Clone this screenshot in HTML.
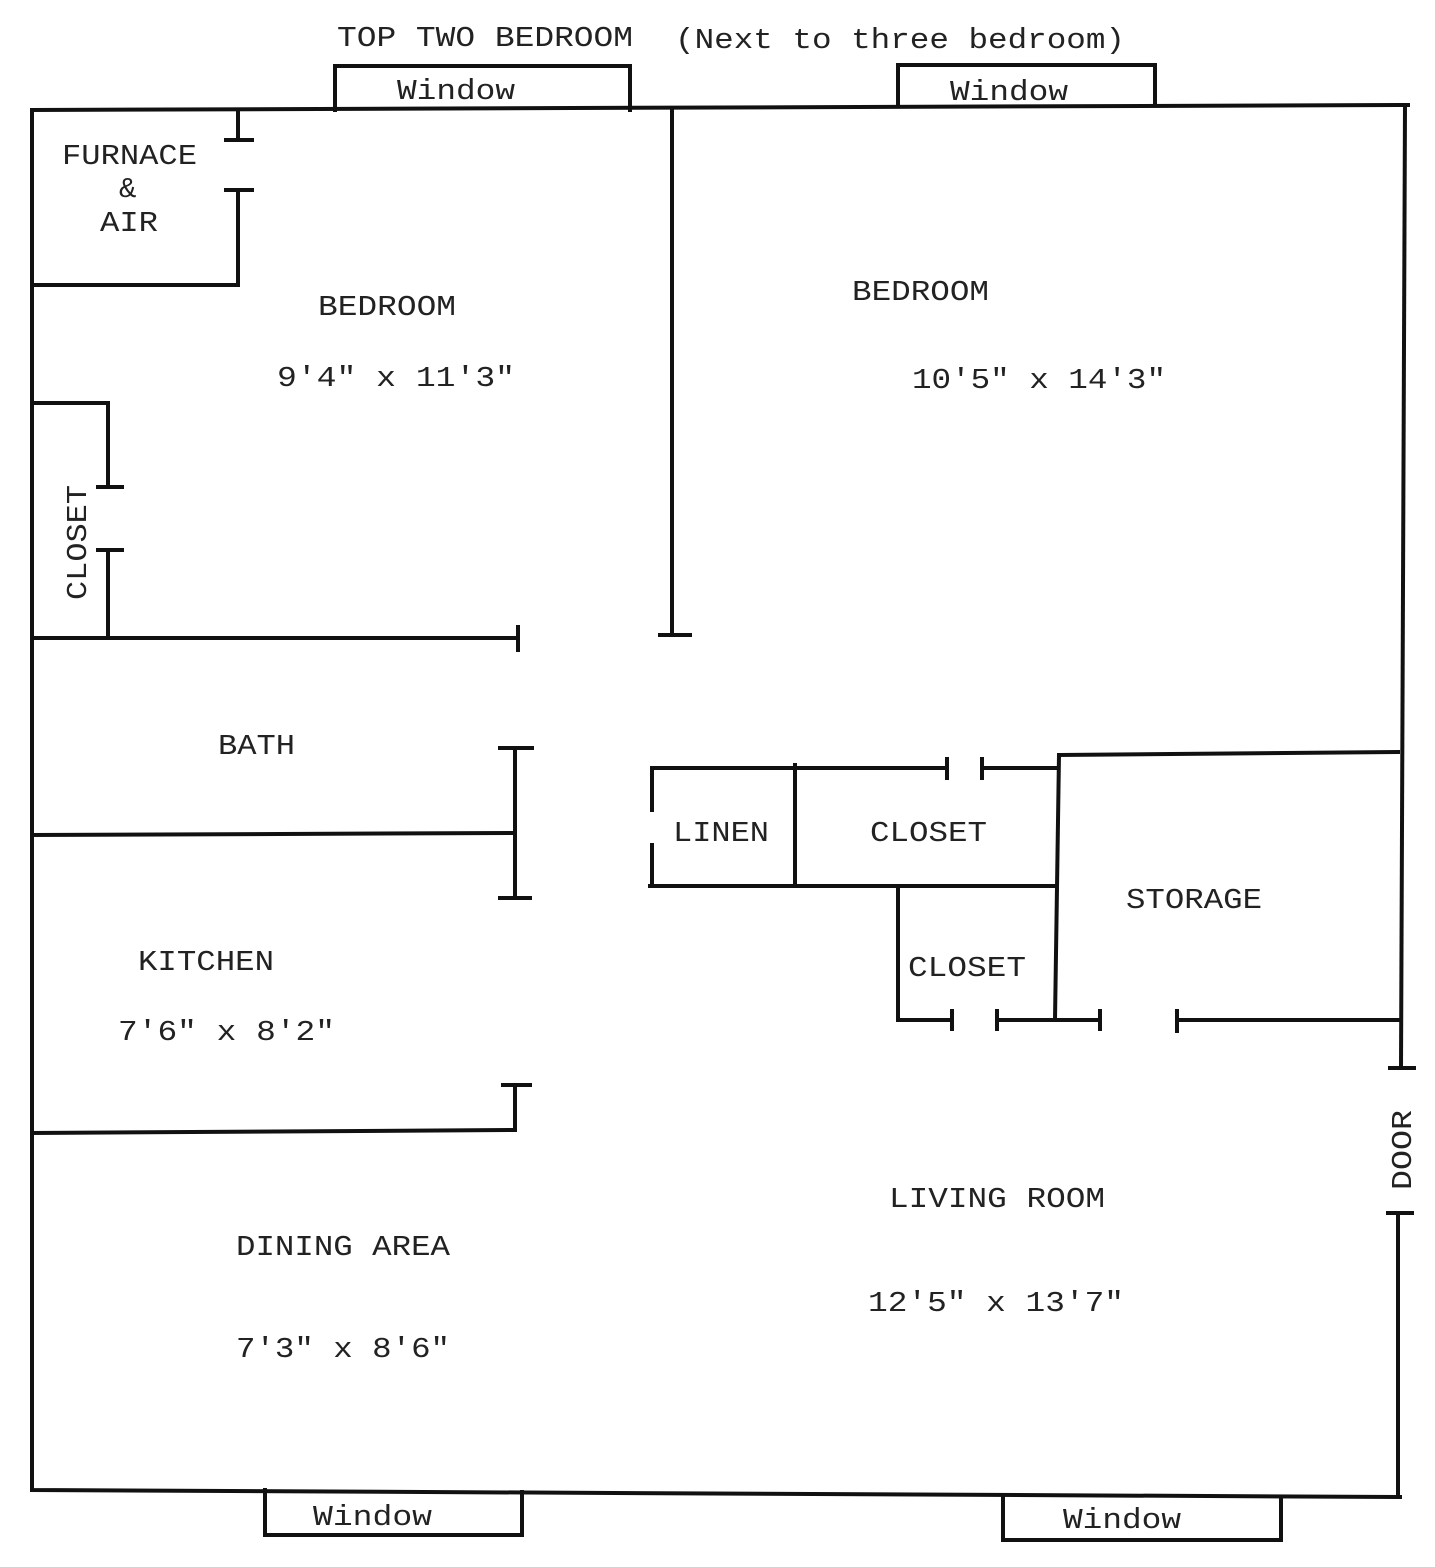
<!DOCTYPE html>
<html><head><meta charset="utf-8"><style>
html,body{margin:0;padding:0;background:#fff;}
svg{display:block;}
text{font-family:"Liberation Mono",monospace;font-size:29px;fill:#222;}
</style></head><body>
<svg width="1435" height="1567" viewBox="0 0 1435 1567" xmlns="http://www.w3.org/2000/svg">
<g stroke="#111" stroke-width="4" fill="none" stroke-linecap="square">
<!-- outer -->
<polyline points="32,110 1408,105"/>
<polyline points="32,110 32,1490 1400,1497"/>
<line x1="1405" y1="105" x2="1401" y2="1068"/>
<line x1="1390" y1="1068" x2="1414" y2="1068"/>
<line x1="1398" y1="1213" x2="1398" y2="1497"/>
<line x1="1388" y1="1213" x2="1412" y2="1213"/>
<!-- windows -->
<polyline points="335,110 335,66 630,66 630,110"/>
<polyline points="898,105 898,65 1155,65 1155,105"/>
<polyline points="265,1490 265,1535 522,1535 522,1492"/>
<polyline points="1003,1497 1003,1540 1281,1540 1281,1497"/>
<!-- furnace -->
<line x1="238" y1="110" x2="238" y2="140"/>
<line x1="226" y1="140" x2="252" y2="140"/>
<polyline points="32,285 238,285 238,190"/>
<line x1="226" y1="190" x2="252" y2="190"/>
<!-- closet left -->
<polyline points="32,403 108,403 108,487"/>
<line x1="98" y1="487" x2="122" y2="487"/>
<line x1="98" y1="550" x2="122" y2="550"/>
<line x1="108" y1="550" x2="108" y2="638"/>
<line x1="32" y1="638" x2="518" y2="638"/>
<line x1="518" y1="627" x2="518" y2="650"/>
<!-- center wall -->
<line x1="672" y1="110" x2="672" y2="635"/>
<line x1="660" y1="635" x2="690" y2="635"/>
<!-- bath -->
<line x1="32" y1="835" x2="515" y2="833"/>
<line x1="515" y1="748" x2="515" y2="898"/>
<line x1="500" y1="748" x2="532" y2="748"/>
<line x1="500" y1="898" x2="530" y2="898"/>
<!-- kitchen -->
<polyline points="32,1133 515,1130 515,1085"/>
<line x1="503" y1="1085" x2="530" y2="1085"/>
<!-- linen / closet -->
<line x1="652" y1="768" x2="652" y2="810"/>
<line x1="652" y1="845" x2="652" y2="886"/>
<line x1="652" y1="768" x2="947" y2="768"/>
<line x1="947" y1="759" x2="947" y2="778"/>
<line x1="982" y1="768" x2="1058" y2="768"/>
<line x1="982" y1="759" x2="982" y2="778"/>
<line x1="795" y1="765" x2="795" y2="885"/>
<line x1="650" y1="886" x2="1055" y2="886"/>
<!-- storage -->
<line x1="1060" y1="755" x2="1398" y2="752"/>
<line x1="1059" y1="755" x2="1055" y2="1020"/>
<polyline points="898,888 898,1020 952,1020"/>
<line x1="952" y1="1011" x2="952" y2="1029"/>
<line x1="997" y1="1020" x2="1100" y2="1020"/>
<line x1="997" y1="1011" x2="997" y2="1029"/>
<line x1="1100" y1="1011" x2="1100" y2="1029"/>
<line x1="1177" y1="1020" x2="1398" y2="1020"/>
<line x1="1177" y1="1011" x2="1177" y2="1031"/>
</g>
<g>
<text x="337" y="46" textLength="296" lengthAdjust="spacingAndGlyphs">TOP TWO BEDROOM</text>
<text x="675" y="48" textLength="450" lengthAdjust="spacingAndGlyphs">(Next to three bedroom)</text>
<text x="397" y="99" textLength="118" lengthAdjust="spacingAndGlyphs">Window</text>
<text x="950" y="100" textLength="118" lengthAdjust="spacingAndGlyphs">Window</text>
<text x="62" y="164" textLength="135" lengthAdjust="spacingAndGlyphs">FURNACE</text>
<text x="119" y="197">&amp;</text>
<text x="100" y="231" textLength="58" lengthAdjust="spacingAndGlyphs">AIR</text>
<text x="318" y="315" textLength="138" lengthAdjust="spacingAndGlyphs">BEDROOM</text>
<text x="277" y="386" textLength="238" lengthAdjust="spacingAndGlyphs">9'4" x 11'3"</text>
<text x="852" y="300" textLength="137" lengthAdjust="spacingAndGlyphs">BEDROOM</text>
<text x="912" y="388" textLength="254" lengthAdjust="spacingAndGlyphs">10'5" x 14'3"</text>
<text transform="translate(86,600) rotate(-90)" textLength="115" lengthAdjust="spacingAndGlyphs">CLOSET</text>
<text x="218" y="754" textLength="77" lengthAdjust="spacingAndGlyphs">BATH</text>
<text x="673" y="841" textLength="96" lengthAdjust="spacingAndGlyphs">LINEN</text>
<text x="870" y="841" textLength="117" lengthAdjust="spacingAndGlyphs">CLOSET</text>
<text x="1126" y="908" textLength="136" lengthAdjust="spacingAndGlyphs">STORAGE</text>
<text x="908" y="976" textLength="118" lengthAdjust="spacingAndGlyphs">CLOSET</text>
<text x="138" y="970" textLength="136" lengthAdjust="spacingAndGlyphs">KITCHEN</text>
<text x="118" y="1040" textLength="217" lengthAdjust="spacingAndGlyphs">7'6" x 8'2"</text>
<text x="236" y="1255" textLength="214" lengthAdjust="spacingAndGlyphs">DINING AREA</text>
<text x="236" y="1357" textLength="214" lengthAdjust="spacingAndGlyphs">7'3" x 8'6"</text>
<text x="889" y="1207" textLength="216" lengthAdjust="spacingAndGlyphs">LIVING ROOM</text>
<text x="868" y="1311" textLength="256" lengthAdjust="spacingAndGlyphs">12'5" x 13'7"</text>
<text transform="translate(1411,1190) rotate(-90)" textLength="80" lengthAdjust="spacingAndGlyphs">DOOR</text>
<text x="313" y="1525" textLength="119" lengthAdjust="spacingAndGlyphs">Window</text>
<text x="1063" y="1528" textLength="118" lengthAdjust="spacingAndGlyphs">Window</text>
</g>
</svg>
</body></html>
